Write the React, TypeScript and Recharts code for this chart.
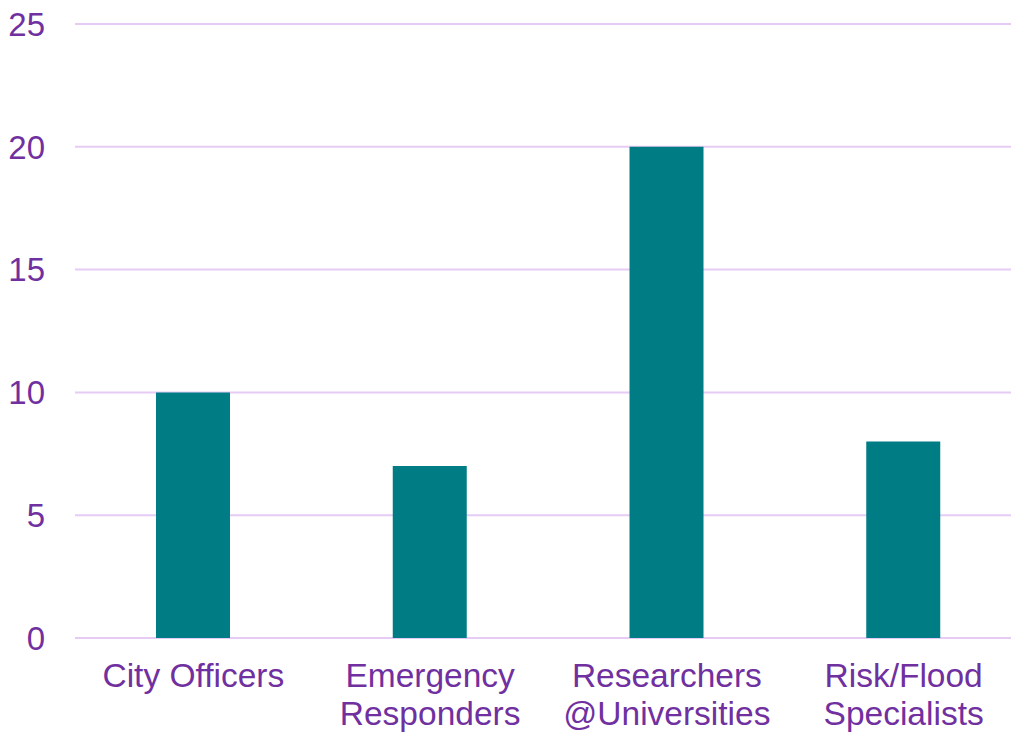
import React from "react";
import { BarChart, Bar, XAxis, YAxis, CartesianGrid } from "recharts";

const categories = ["City Officers", "Emergency\nResponders", "Researchers\n@Universities", "Risk/Flood\nSpecialists"];
const values = [10, 7, 20, 8];
const yTicks = [0, 5, 10, 15, 20, 25];

const data = categories.map((c, i) => ({ name: c, value: values[i] }));

const TEXT = "#7030a0";
const GRID = "#e6ccf5";
const BAR = "#007c85";
const FONT = "Liberation Sans, Arial, sans-serif";

const XTick = (props: any) => {
  const { x, y, payload } = props;
  const lines = String(payload.value).split("\n");
  return (
    <text x={x} y={y} textAnchor="middle" fill={TEXT} fontSize={33.5} fontFamily={FONT}>
      {lines.map((l, i) => (
        <tspan key={i} x={x} dy={i === 0 ? 41 : 38}>{l}</tspan>
      ))}
    </text>
  );
};

export default function App() {
  return (
    <div style={{ position: "absolute", left: 0, top: 0, width: 1011, height: 734, overflow: "hidden", background: "#fff" }}>
      <BarChart width={1023} height={734} data={data} margin={{ top: 24, right: 1, bottom: 0, left: 0 }} barSize={74}>
        <CartesianGrid horizontal vertical={false} stroke={GRID} strokeWidth={2} />
        <XAxis dataKey="name" axisLine={false} tickLine={false} tick={<XTick />} interval={0} height={96} />
        <YAxis
          domain={[0, 25]}
          ticks={yTicks}
          axisLine={false}
          tickLine={false}
          width={75}
          tickSize={6}
          tickMargin={24}
          tick={{ fill: TEXT, fontSize: 33, fontFamily: FONT }}
        />
        <Bar dataKey="value" fill={BAR} isAnimationActive={false} />
      </BarChart>
    </div>
  );
}
